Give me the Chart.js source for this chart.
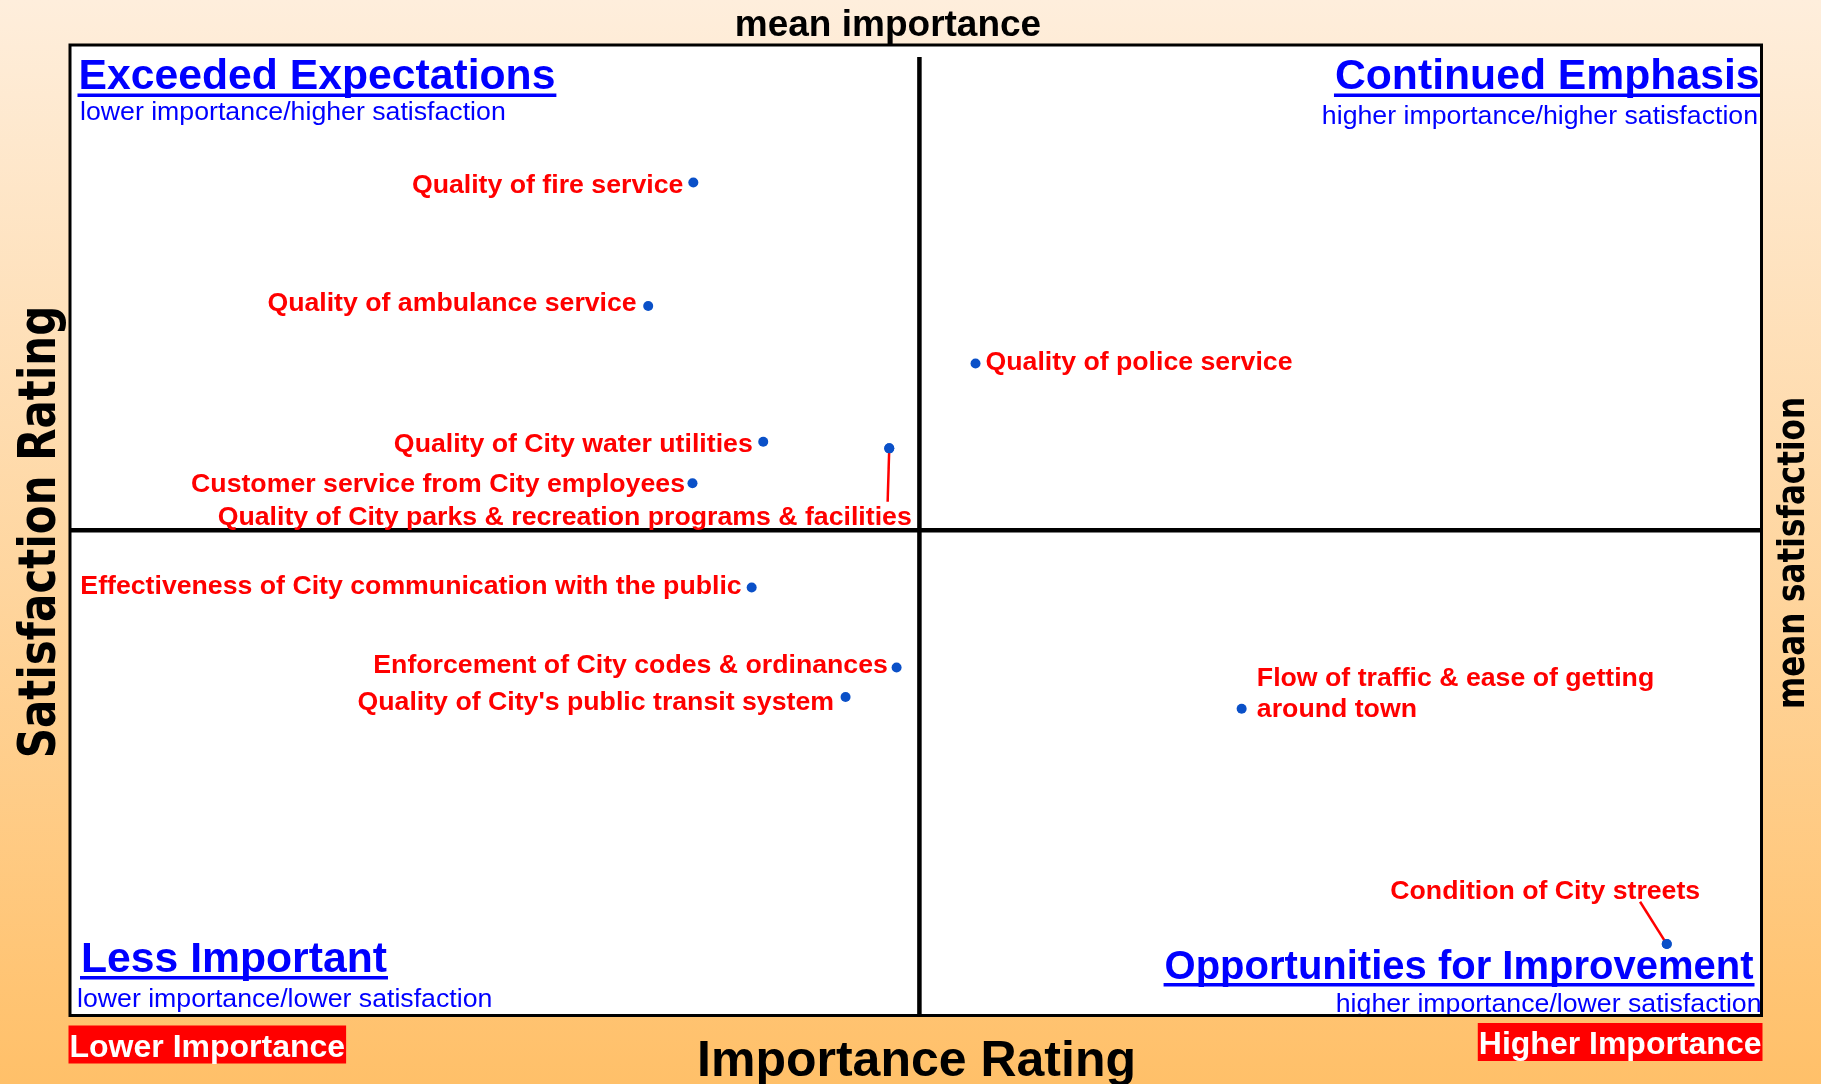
<!DOCTYPE html>
<html>
<head>
<meta charset="utf-8">
<title>Importance-Satisfaction Matrix</title>
<script src="https://cdn.jsdelivr.net/npm/chart.js@4.4.0/dist/chart.umd.min.js"></script>
<style>
  html, body { margin: 0; padding: 0; }
  body {
    width: 1821px; height: 1084px; overflow: hidden;
    background: linear-gradient(to bottom, #feeedc 0%, #ffc069 100%);
  }
  #matrix { display: block; }
</style>
</head>
<body>
<canvas id="matrix" width="1821" height="1084"></canvas>
<script>
// ---------------------------
// Data
const items = [
  "Quality of fire service",
  "Quality of ambulance service",
  "Quality of City water utilities",
  "Quality of City parks & recreation programs & facilities",
  "Customer service from City employees",
  "Quality of police service",
  "Effectiveness of City communication with the public",
  "Enforcement of City codes & ordinances",
  "Quality of City's public transit system",
  ["Flow of traffic & ease of getting", "around town"],
  "Condition of City streets",
];
const importance = [22.11, 20.51, 24.59, 29.06, 22.08, 32.12, 24.18, 29.32, 27.51, 41.56, 56.64];
const satisfaction = [92.92, 86.55, 79.56, 79.22, 77.42, 83.59, 72.05, 67.93, 66.41, 65.80, 53.68];
const meanImportance = 30.13;
const meanSatisfaction = 75.0;
const importanceRange = [0, 60];
const satisfactionRange = [50, 100];

const quadrantTitles = ["Exceeded Expectations", "Continued Emphasis", "Less Important", "Opportunities for Improvement"];
const quadrantSubtitles = [
  "lower importance/higher satisfaction",
  "higher importance/higher satisfaction",
  "lower importance/lower satisfaction",
  "higher importance/lower satisfaction",
];

// ---------------------------
// Layout of the hand placed texts
const labelLayout = [
  { align: "right", dx: -10, dy: 10.5 },
  { align: "right", dx: -11.5, dy: 4.7 },
  { align: "right", dx: -10.5, dy: 10 },
  { align: "right", dx: 22.5, dy: 77, leader: [-1.6, 53.4] },
  { align: "right", dx: -7.5, dy: 8.8 },
  { align: "left", dx: 10, dy: 6 },
  { align: "right", dx: -10, dy: 6 },
  { align: "right", dx: -8.7, dy: 5.4 },
  { align: "right", dx: -11.6, dy: 12.6 },
  { align: "left", dx: 15.2, dy: -23.3 },
  { align: "right", dx: 33.4, dy: -45.2, leader: [-26.7, -42.3] },
];
// heading offsets from the plot corners
const quadrantLayout = [
  { side: "left", tx: 8.5, ty: 44, sx: 10, sy: 74.5, size: 42.7, from: "top" },
  { side: "right", tx: -2, ty: 44, sx: -3.5, sy: 79, size: 42.7, from: "top" },
  { side: "left", tx: 11, ty: -44, sx: 7, sy: -8.5, size: 42.7, from: "bottom" },
  { side: "right", tx: -8, ty: -37, sx: 0, sy: -3.5, size: 40, from: "bottom" },
];

const ARIAL = "'Liberation Sans', Arial, sans-serif";
const WIDE = "'DejaVu Sans', Verdana, sans-serif";

// ---------------------------
// Plugins
const quadrantPlugin = {
  id: "quadrants",
  beforeDatasetsDraw(chart) {
    const { ctx, chartArea: a, scales } = chart;
    ctx.save();
    ctx.fillStyle = "#ffffff";
    ctx.fillRect(a.left, a.top, a.right - a.left, a.bottom - a.top);

    const mx = scales.x.getPixelForValue(meanImportance);
    const my = scales.y.getPixelForValue(meanSatisfaction);
    ctx.strokeStyle = "#000000";
    ctx.lineWidth = 4.5;
    ctx.beginPath();
    ctx.moveTo(mx, a.top + 12);
    ctx.lineTo(mx, a.bottom);
    ctx.moveTo(a.left, my);
    ctx.lineTo(a.right, my);
    ctx.stroke();

    // quadrant headings
    quadrantTitles.forEach((title, i) => {
      const q = quadrantLayout[i];
      const base = q.from === "top" ? a.top : a.bottom;
      const edge = q.side === "left" ? a.left : a.right;
      ctx.textAlign = q.side;
      ctx.textBaseline = "alphabetic";
      ctx.fillStyle = "#0000ff";
      ctx.font = `bold ${q.size}px ${ARIAL}`;
      const tx = edge + q.tx;
      const ty = base + q.ty;
      ctx.fillText(title, tx, ty);
      const w = ctx.measureText(title).width;
      const ux = q.side === "left" ? tx - 1 : tx - w - 1;
      ctx.fillRect(ux, ty + 4.5, w + 2, 3.5);

      ctx.font = `26.7px ${ARIAL}`;
      ctx.fillText(quadrantSubtitles[i], edge + q.sx, base + q.sy);
    });
    ctx.restore();
  },
  afterDatasetsDraw(chart) {
    const { ctx, chartArea: a } = chart;
    const meta = chart.getDatasetMeta(0);
    ctx.save();

    // leader lines
    ctx.strokeStyle = "#ff0000";
    ctx.lineWidth = 2.5;
    meta.data.forEach((pt, i) => {
      const L = labelLayout[i];
      if (!L.leader) return;
      ctx.beginPath();
      ctx.moveTo(pt.x, pt.y);
      ctx.lineTo(pt.x + L.leader[0], pt.y + L.leader[1]);
      ctx.stroke();
    });
    // redraw points over the leader lines
    meta.data.forEach((pt, i) => {
      if (labelLayout[i].leader) {
        ctx.fillStyle = "#0a50c8";
        ctx.beginPath();
        ctx.arc(pt.x, pt.y, 5, 0, Math.PI * 2);
        ctx.fill();
      }
    });

    // point labels
    ctx.fillStyle = "#ff0000";
    ctx.font = `bold 26.7px ${ARIAL}`;
    ctx.textBaseline = "alphabetic";
    meta.data.forEach((pt, i) => {
      const L = labelLayout[i];
      const lines = Array.isArray(items[i]) ? items[i] : [items[i]];
      ctx.textAlign = L.align;
      lines.forEach((line, j) => {
        ctx.fillText(line, pt.x + L.dx, pt.y + L.dy + j * 31.5);
      });
    });

    // frame
    ctx.strokeStyle = "#000000";
    ctx.lineWidth = 3;
    ctx.strokeRect(a.left, a.top, a.right - a.left, a.bottom - a.top);

    // axis titles
    ctx.fillStyle = "#000000";
    ctx.textAlign = "center";
    ctx.font = `bold 37px ${ARIAL}`;
    ctx.fillText("mean importance", 888, 35.5);
    ctx.font = `bold 50px ${ARIAL}`;
    ctx.fillText("Importance Rating", 916.5, 1076);

    const vertical = (text, x, y, size, stretch) => {
      ctx.save();
      ctx.translate(x, y);
      ctx.rotate(-Math.PI / 2);
      ctx.scale(1, stretch);
      ctx.font = `bold ${size}px ${WIDE}`;
      ctx.textAlign = "center";
      ctx.fillText(text, 0, 0);
      ctx.restore();
    };
    vertical("Satisfaction Rating", 55, 532, 42, 1.22);
    vertical("mean satisfaction", 1804, 553, 31, 1.22);

    // red end tags
    ctx.font = `bold 32px ${ARIAL}`;
    ctx.textAlign = "left";
    const tag = (text, x, top, alignRight) => {
      const w = ctx.measureText(text).width + 2;
      const bx = alignRight ? x - w : x;
      ctx.fillStyle = "#ff0000";
      ctx.fillRect(bx, top, w, 38);
      ctx.fillStyle = "#ffffff";
      ctx.fillText(text, bx + 1, top + 31);
    };
    tag("Lower Importance", a.left - 1.5, a.bottom + 10, false);
    tag("Higher Importance", a.right + 1, a.bottom + 7.5, true);

    ctx.restore();
  },
};

// ---------------------------
// Chart
const chart = new Chart(document.getElementById("matrix"), {
  type: "scatter",
  plugins: [quadrantPlugin],
  data: {
    labels: items,
    datasets: [{
      data: importance.map((v, i) => ({ x: v, y: satisfaction[i] })),
      pointRadius: 5,
      pointBorderWidth: 0,
      pointBackgroundColor: "#0a50c8",
    }],
  },
  options: {
    responsive: false,
    devicePixelRatio: 1,
    animation: false,
    events: [],
    layout: { padding: { left: 70, top: 45, right: 59.5, bottom: 68.5 } },
    plugins: { legend: { display: false }, tooltip: { enabled: false } },
    scales: {
      x: { display: false, min: importanceRange[0], max: importanceRange[1] },
      y: { display: false, min: satisfactionRange[0], max: satisfactionRange[1] },
    },
  },
});
</script>
</body>
</html>
